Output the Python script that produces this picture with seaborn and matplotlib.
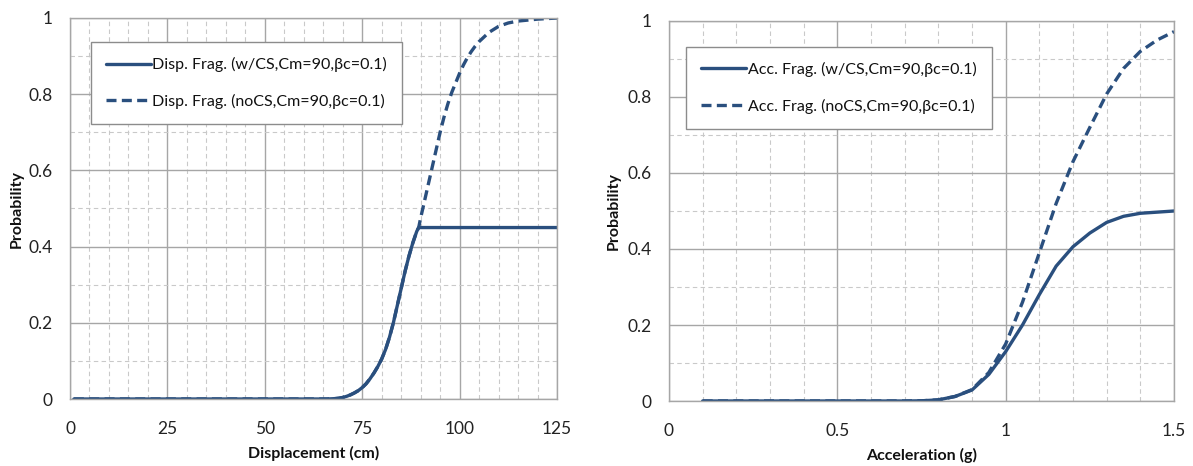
import matplotlib
matplotlib.use("Agg")
import matplotlib.pyplot as plt
from matplotlib.ticker import MultipleLocator, FuncFormatter
import seaborn as sns
import pandas as pd

# Displacement fragility (cm): shared rising branch, then the two tails
disp_x = [1, 5, 10, 15, 20, 25, 30, 35, 40, 45, 50, 55, 60, 65, 66, 67, 68, 69, 70,
          71, 72, 73, 74, 75, 76, 77, 78, 79, 80, 81, 82, 83, 84, 85, 86, 87, 88, 89, 89.5]
disp_common = [0, 0, 0, 0, 0, 0, 0, 0, 0, 0, 0, 0, 0, 0, 0, 0.0005, 0.001, 0.002, 0.004,
               0.007, 0.011, 0.016, 0.022, 0.030, 0.040, 0.053, 0.068, 0.085, 0.105, 0.13,
               0.162, 0.20, 0.245, 0.29, 0.335, 0.375, 0.41, 0.44, 0.45]
disp_wcs_tail_x = [95, 100, 105, 110, 115, 120, 125]
disp_wcs_tail = [0.45, 0.45, 0.45, 0.45, 0.45, 0.45, 0.45]
disp_nocs_tail_x = [90, 91, 92, 93, 94, 95, 96, 97, 98, 99, 100, 101, 102, 103, 104, 105,
                    107.5, 110, 112.5, 115, 120, 125]
disp_nocs_tail = [0.475, 0.52, 0.565, 0.61, 0.655, 0.70, 0.74, 0.775, 0.805, 0.83, 0.855,
                  0.877, 0.896, 0.912, 0.926, 0.938, 0.962, 0.978, 0.987, 0.992, 0.997, 1.0]

# Acceleration fragility (g)
acc_x = [0.1, 0.2, 0.3, 0.4, 0.5, 0.6, 0.7, 0.75, 0.8, 0.85, 0.9, 0.95, 1.0, 1.05,
         1.1, 1.15, 1.2, 1.25, 1.3, 1.35, 1.4, 1.45, 1.5]
acc_wcs = [0, 0, 0, 0, 0, 0, 0, 0.0005, 0.003, 0.012, 0.029, 0.07, 0.13, 0.20,
           0.28, 0.355, 0.406, 0.442, 0.47, 0.486, 0.494, 0.497, 0.50]
acc_nocs = [0, 0, 0, 0, 0, 0, 0, 0.0005, 0.003, 0.012, 0.03, 0.075, 0.15, 0.26,
            0.39, 0.52, 0.63, 0.72, 0.808, 0.875, 0.92, 0.95, 0.972]

labels_disp = ["Disp. Frag. (w/CS,Cm=90,\u03b2c=0.1)", "Disp. Frag. (noCS,Cm=90,\u03b2c=0.1)"]
labels_acc = ["Acc. Frag. (w/CS,Cm=90,\u03b2c=0.1)", "Acc. Frag. (noCS,Cm=90,\u03b2c=0.1)"]

sns.set_theme(style="white")
plt.rcParams["font.family"] = ["Lato", "DejaVu Sans"]

LINE = "#2A4F7E"
MAJOR = "#A6A6A6"
MINOR = "#C9C9C9"
DASH = (0, (3, 1.6))

fig = plt.figure(figsize=(11.93, 4.66), dpi=100)
ax1 = fig.add_axes([70 / 1193, 1 - 399 / 466, 487 / 1193, 381 / 466])
ax2 = fig.add_axes([669 / 1193, 1 - 401 / 466, 505 / 1193, 380 / 466])

fmt = FuncFormatter(lambda v, p: f"{v:g}")


def style_axes(ax, xmaj, xmin, xlim, xlabel, ylabelpad):
    ax.set_xlim(*xlim)
    ax.set_ylim(0, 1)
    ax.xaxis.set_major_locator(MultipleLocator(xmaj))
    ax.xaxis.set_minor_locator(MultipleLocator(xmin))
    ax.yaxis.set_major_locator(MultipleLocator(0.2))
    ax.yaxis.set_minor_locator(MultipleLocator(0.1))
    ax.xaxis.set_major_formatter(fmt)
    ax.yaxis.set_major_formatter(fmt)
    ax.grid(which="major", color=MAJOR, lw=1.0, ls="-")
    ax.grid(which="minor", color=MINOR, lw=0.8, ls=(0, (4, 3)))
    ax.set_axisbelow(True)
    for s in ax.spines.values():
        s.set_color(MAJOR)
        s.set_linewidth(1.0)
    ax.tick_params(which="both", length=0, labelsize=12.5, colors="#222222")
    ax.tick_params(axis="x", pad=16)
    ax.tick_params(axis="y", pad=12.5)
    ax.set_xlabel(xlabel, fontsize=11.5, fontweight="bold", labelpad=6, color="#111111")
    ax.set_ylabel("Probability", fontsize=11.5, fontweight="bold",
                  labelpad=ylabelpad, color="#111111")


# Left panel: displacement
d_wcs = pd.DataFrame({"x": disp_x + disp_wcs_tail_x, "p": disp_common + disp_wcs_tail})
d_nocs = pd.DataFrame({"x": disp_x + disp_nocs_tail_x, "p": disp_common + disp_nocs_tail})
sns.lineplot(data=d_nocs, x="x", y="p", ax=ax1, color=LINE, lw=2.4,
             linestyle=DASH, label=labels_disp[1], sort=False)
sns.lineplot(data=d_wcs, x="x", y="p", ax=ax1, color=LINE, lw=2.4,
             label=labels_disp[0], sort=False)
style_axes(ax1, 25, 5, (0, 125), "Displacement (cm)", 3)

# Right panel: acceleration
a_df = pd.DataFrame({"x": acc_x, "wcs": acc_wcs, "nocs": acc_nocs})
sns.lineplot(data=a_df, x="x", y="nocs", ax=ax2, color=LINE, lw=2.4,
             linestyle=DASH, label=labels_acc[1])
sns.lineplot(data=a_df, x="x", y="wcs", ax=ax2, color=LINE, lw=2.4, label=labels_acc[0])
style_axes(ax2, 0.5, 0.1, (0, 1.5), "Acceleration (g)", 5)


def add_legend(ax, anchor):
    h, l = ax.get_legend_handles_labels()
    leg = ax.legend(h[::-1], l[::-1], loc="upper left", bbox_to_anchor=anchor,
                    borderaxespad=0, frameon=True, fancybox=False, fontsize=11.5,
                    handlelength=2.8, handletextpad=0.1, labelspacing=1.35,
                    borderpad=0.95)
    fr = leg.get_frame()
    fr.set_edgecolor("#8C8C8C")
    fr.set_linewidth(1.0)
    fr.set_facecolor("white")
    fr.set_alpha(1)
    for t in leg.get_texts():
        t.set_color("#111111")


add_legend(ax1, (0.043, 0.937))
add_legend(ax2, (0.034, 0.932))

fig.savefig("out.png", dpi=100)
